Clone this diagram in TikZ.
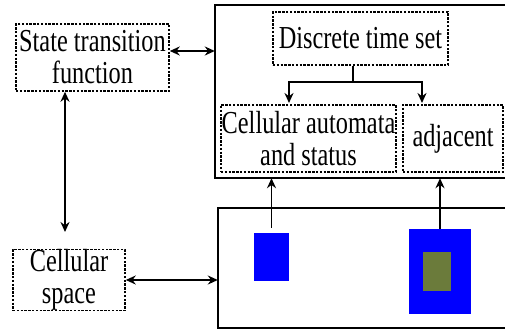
\documentclass[tikz,border=0pt]{standalone}
\usepackage{fontspec}
\setmainfont{Liberation Serif}[FakeStretch=0.76]
\usepackage{tikz}
\usetikzlibrary{arrows.meta,calc,positioning}

\tikzset{
  dashbox/.style={draw,line width=1.5pt,dash pattern=on 2.4pt off 1.4pt,align=center,inner sep=0pt,
    font=\fontsize{32}{32}\selectfont},
  area/.style={inner sep=0pt},
  cell/.style={fill=blue,inner sep=0pt},
  link/.style={line width=1.8pt,{Stealth[length=10pt,width=9pt]}-{Stealth[length=10pt,width=9pt]}},
  onelink/.style={line width=1.8pt,-{Stealth[length=10pt,width=9pt]}}
}

\begin{document}
\begin{tikzpicture}[x=1pt,y=-1pt]
\useasboundingbox (0,0) rectangle (505,331);
% outer frames (open on the right)
\node[area,minimum width=291pt,minimum height=173pt] (upper) at (360.5,91.5) {};
\node[area,minimum width=288pt,minimum height=120pt] (lower) at (362,268) {};
\draw[line width=2.2pt] (upper.north east) -- (upper.north west) -- (upper.south west) -- (upper.south east);
\draw[line width=2.2pt] (lower.north east) -- (lower.north west) -- (lower.south west) -- (lower.south east);
% dashed boxes
\node[dashbox,minimum width=153pt,minimum height=67pt] (stf) at (92.5,57.5) {State transition\\function};
\node[dashbox,minimum width=112pt,minimum height=58pt] (space) at (69,280) {Cellular\\space};
\node[dashbox,minimum width=175pt,minimum height=53pt] (time) at (360.5,38.5) {Discrete time set};
\node[dashbox,minimum width=175pt,minimum height=67pt] (automata) at (308.5,138.5) {Cellular automata\\and status};
\node[dashbox,minimum width=100pt,minimum height=67pt] (adj) at (453,138.5) {adjacent};
% cells
\node[cell,minimum width=35pt,minimum height=48pt] (cellA) at (271.5,257) {};
\node[cell,minimum width=62pt,minimum height=85pt] (cellB) at (440,271.5) {};
\node[fill={rgb,255:red,107;green,123;blue,59},inner sep=0pt,minimum width=28pt,minimum height=39pt] (core) at (437,271.5) {};
% connectors
\coordinate (drop) at (65,232);
\coordinate (split) at (353,82);
\draw[link] (stf.east |- 0,51) -- (upper.west |- 0,51);
\draw[link] (stf.south -| drop) -- (drop);
\draw[link] (space.east) -- (lower.west |- space.east);
\draw[line width=1.8pt] (time.south -| split) -- (split);
\draw[onelink] (split) -| (289,103);
\draw[onelink] (split) -| (422,103);
\draw[onelink] ($(cellA.north)+(0,-5)$) -- (upper.south -| cellA.north);
\draw[onelink] (cellB.north) -- (upper.south -| cellB.north);
\end{tikzpicture}
\end{document}
